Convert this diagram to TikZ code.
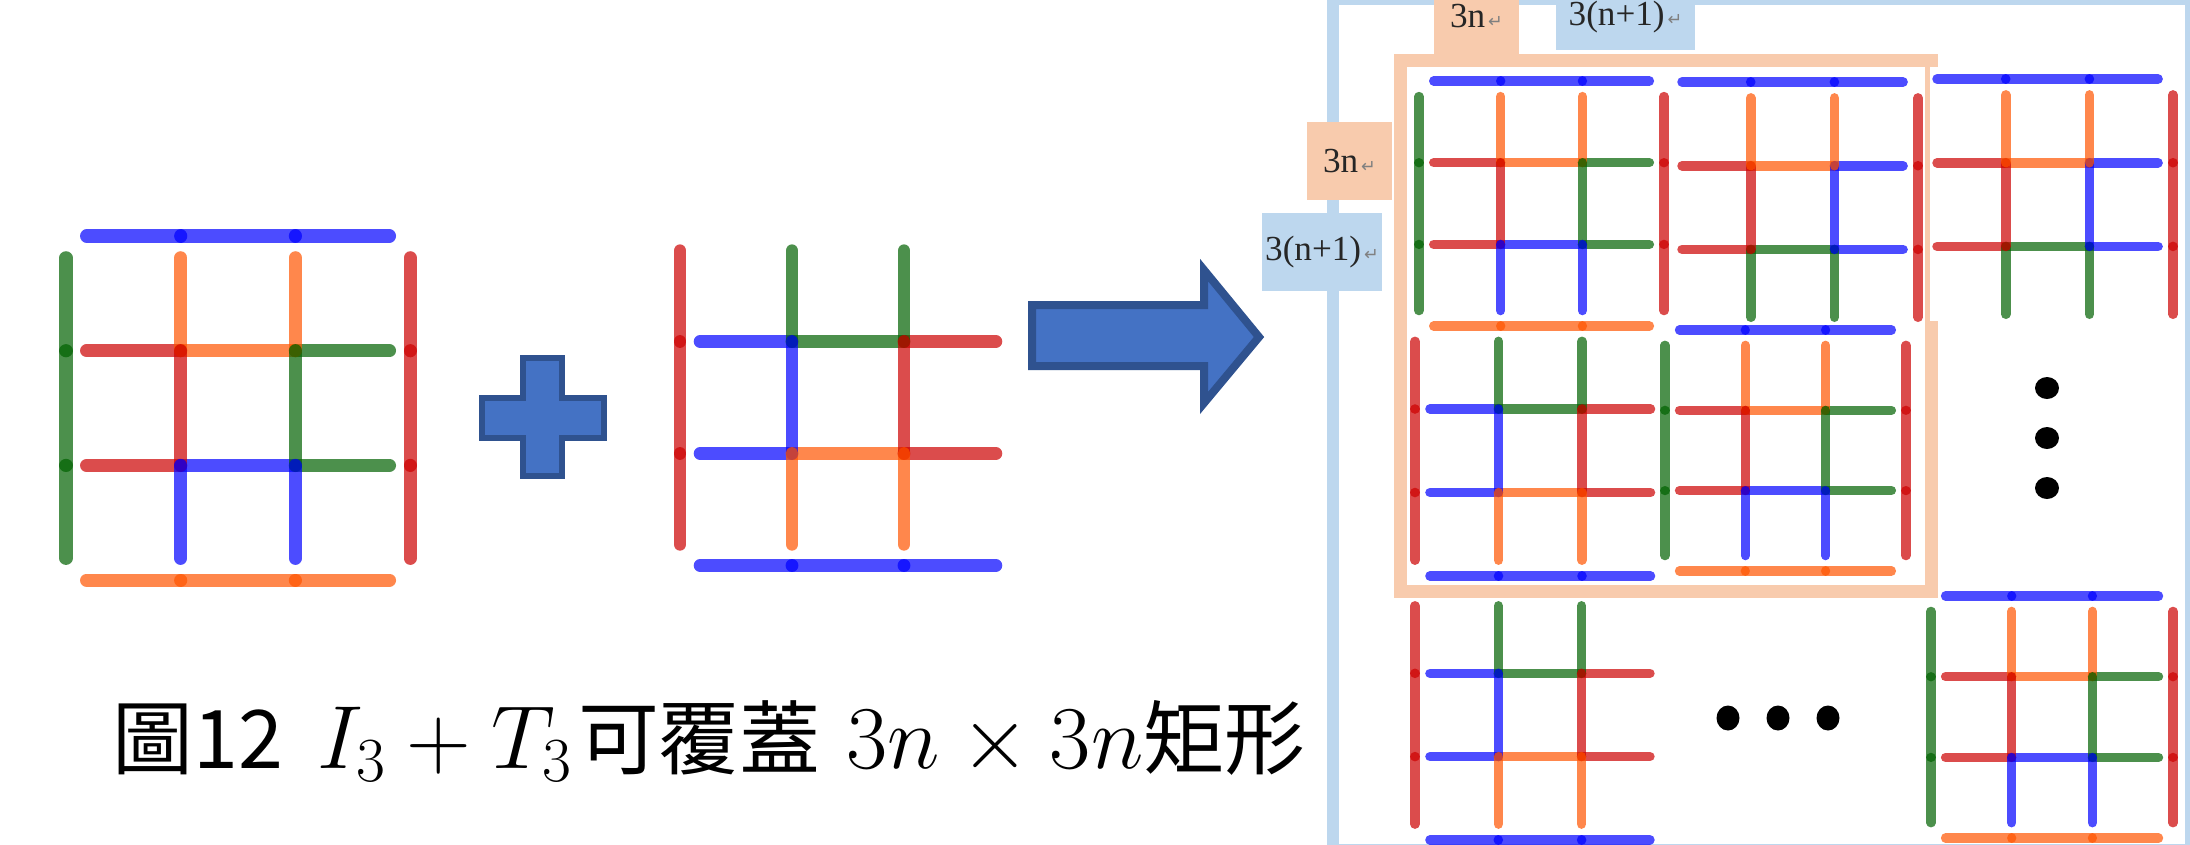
\documentclass[tikz,border=0pt]{standalone}
\usepackage{fix-cm}
\usepackage{fontspec}
\setmainfont{Liberation Serif}
\newfontfamily\cjkfont{Noto Sans CJK TC}
\newfontfamily\symfont{DejaVu Sans}
\usepackage{tikz}

\definecolor{sblue}{RGB}{0,0,255}
\definecolor{sred}{RGB}{205,0,0}
\definecolor{sgreen}{RGB}{0,98,0}
\definecolor{sorange}{RGB}{255,85,0}
\definecolor{shapefill}{RGB}{68,114,196}
\definecolor{shapeline}{RGB}{47,82,143}
\definecolor{boxorange}{RGB}{248,203,173}
\definecolor{boxblue}{RGB}{189,215,238}

% one row / one column of sticks, split at the lattice points
\newcommand{\stickrow}[4]{%
	\draw[stk, #1] (0.18, #4) -- (1, #4);
	\draw[stk, #2] (1, #4) -- (2, #4);
	\draw[stk, #3] (2, #4) -- (2.82, #4);
}
\newcommand{\stickcol}[4]{%
	\draw[stk, #1] (#4, 0.19) -- (#4, 1);
	\draw[stk, #2] (#4, 1) -- (#4, 2);
	\draw[stk, #3] (#4, 2) -- (#4, 2.81);
}
% I_3 piece
\newcommand{\tileI}{%
	\stickrow{sblue}{sblue}{sblue}{0}
	\stickrow{sred}{sorange}{sgreen}{1}
	\stickrow{sred}{sblue}{sgreen}{2}
	\stickrow{sorange}{sorange}{sorange}{3}
	\stickcol{sgreen}{sgreen}{sgreen}{0}
	\stickcol{sorange}{sred}{sblue}{1}
	\stickcol{sorange}{sgreen}{sblue}{2}
	\stickcol{sred}{sred}{sred}{3}
}
% T_3 piece
\newcommand{\tileT}{%
	\stickrow{sblue}{sgreen}{sred}{1}
	\stickrow{sblue}{sorange}{sred}{2}
	\stickrow{sblue}{sblue}{sblue}{3}
	\stickcol{sred}{sred}{sred}{0}
	\stickcol{sgreen}{sblue}{sorange}{1}
	\stickcol{sgreen}{sred}{sorange}{2}
}
\newcommand{\retmark}{{\symfont\fontsize{5}{5}\selectfont\color{gray}\,↵}}
\newcommand{\bigmath}[1]{{\fontsize{25.5}{28}\selectfont$#1$}}

\begin{document}
\begin{tikzpicture}[x=0.01cm, y=-0.01cm,
	stk/.style={line cap=round, opacity=0.7},
	tile/.style n args={3}{shift={(#1,#2)}, scale=#3, stk/.append style={line width=0.0327pt*#3}},
	blockshape/.style={draw=shapeline, fill=shapefill, line join=miter},
	lblbox/.style={inner sep=0pt, font=\fontsize{10}{12}\selectfont, text=black!85},
	dotmark/.style={fill=black}]
	\useasboundingbox (0,0) rectangle (2190,844);
	\clip (0,0) rectangle (2190,844);
	\fill[white] (0,0) rectangle (2190,844);

	% Left: I_3 + T_3
	\begin{scope}[tile={66}{236}{114.7}] \tileI \end{scope}
	\draw[blockshape, line width=0.06cm] (523,357.5) -- (562,357.5) -- (562,398) -- (603.5,398) -- (603.5,437.5) -- (562,437.5) -- (562,476) -- (523,476) -- (523,437.5) -- (481.5,437.5) -- (481.5,398) -- (523,398) -- cycle;
	\begin{scope}[tile={680}{229.5}{112}] \tileT \end{scope}
	\draw[blockshape, line width=0.08cm] (1032,305) -- (1204,305) -- (1204,270) -- (1259,337) -- (1204,403) -- (1204,366) -- (1032,366) -- cycle;

	% Right: frames and size labels
	\draw[boxblue, line width=0.12cm] (1333,-1) rectangle (2191,850);
	\draw[boxorange, line width=0.13cm] (1400.5,60) rectangle (1931,591);
	\fill[white] (1930,67) rectangle (1940,321);
	\node[lblbox, fill=boxorange, minimum width=0.85cm, minimum height=0.76cm] (top3n) at (1476.5,16) {3n\retmark};
	\node[lblbox, fill=boxblue, minimum width=1.39cm, minimum height=0.74cm, text depth=0pt] (topn1) at (1625.5,13) {3(n+1)\retmark};
	\node[lblbox, fill=boxorange, minimum width=0.85cm, minimum height=0.78cm] (side3n) at (1349.5,161) {3n\retmark};
	\node[lblbox, fill=boxblue, minimum width=1.2cm, minimum height=0.78cm] (siden1) at (1322,252) {3(n+1)\retmark};

	% Right: tiling
	\begin{scope}[tile={1419}{81}{81.7}] \tileI \end{scope}
	\begin{scope}[tile={1667}{82}{83.7}, rotate around={180:(1.5,1.5)}] \tileT \end{scope}
	\begin{scope}[tile={1922}{79}{83.7}, rotate around={180:(1.5,1.5)}] \tileT \end{scope}
	\begin{scope}[tile={1415}{325.5}{83.5}] \tileT \end{scope}
	\begin{scope}[tile={1665}{330}{80.3}] \tileI \end{scope}
	\begin{scope}[tile={1415}{590}{83.3}] \tileT \end{scope}
	\begin{scope}[tile={1931}{596}{80.7}] \tileI \end{scope}
	\foreach \y in {388,438,488} \fill[dotmark] (2047,\y) ellipse [x radius=12, y radius=11];
	\foreach \x in {1728,1778,1828} \fill[dotmark] (\x,718) ellipse [x radius=11.5, y radius=12.5];

	% Caption
	\node[anchor=base west, inner sep=0pt, font=\fontsize{23}{28}\selectfont] (caption) at (112,768) {\cjkfont 圖12\hspace{0.34cm}\bigmath{I_3+T_3}\hspace{0.05cm}可覆蓋\hspace{0.26cm}\bigmath{3n\times3n}矩形};
\end{tikzpicture}
\end{document}
